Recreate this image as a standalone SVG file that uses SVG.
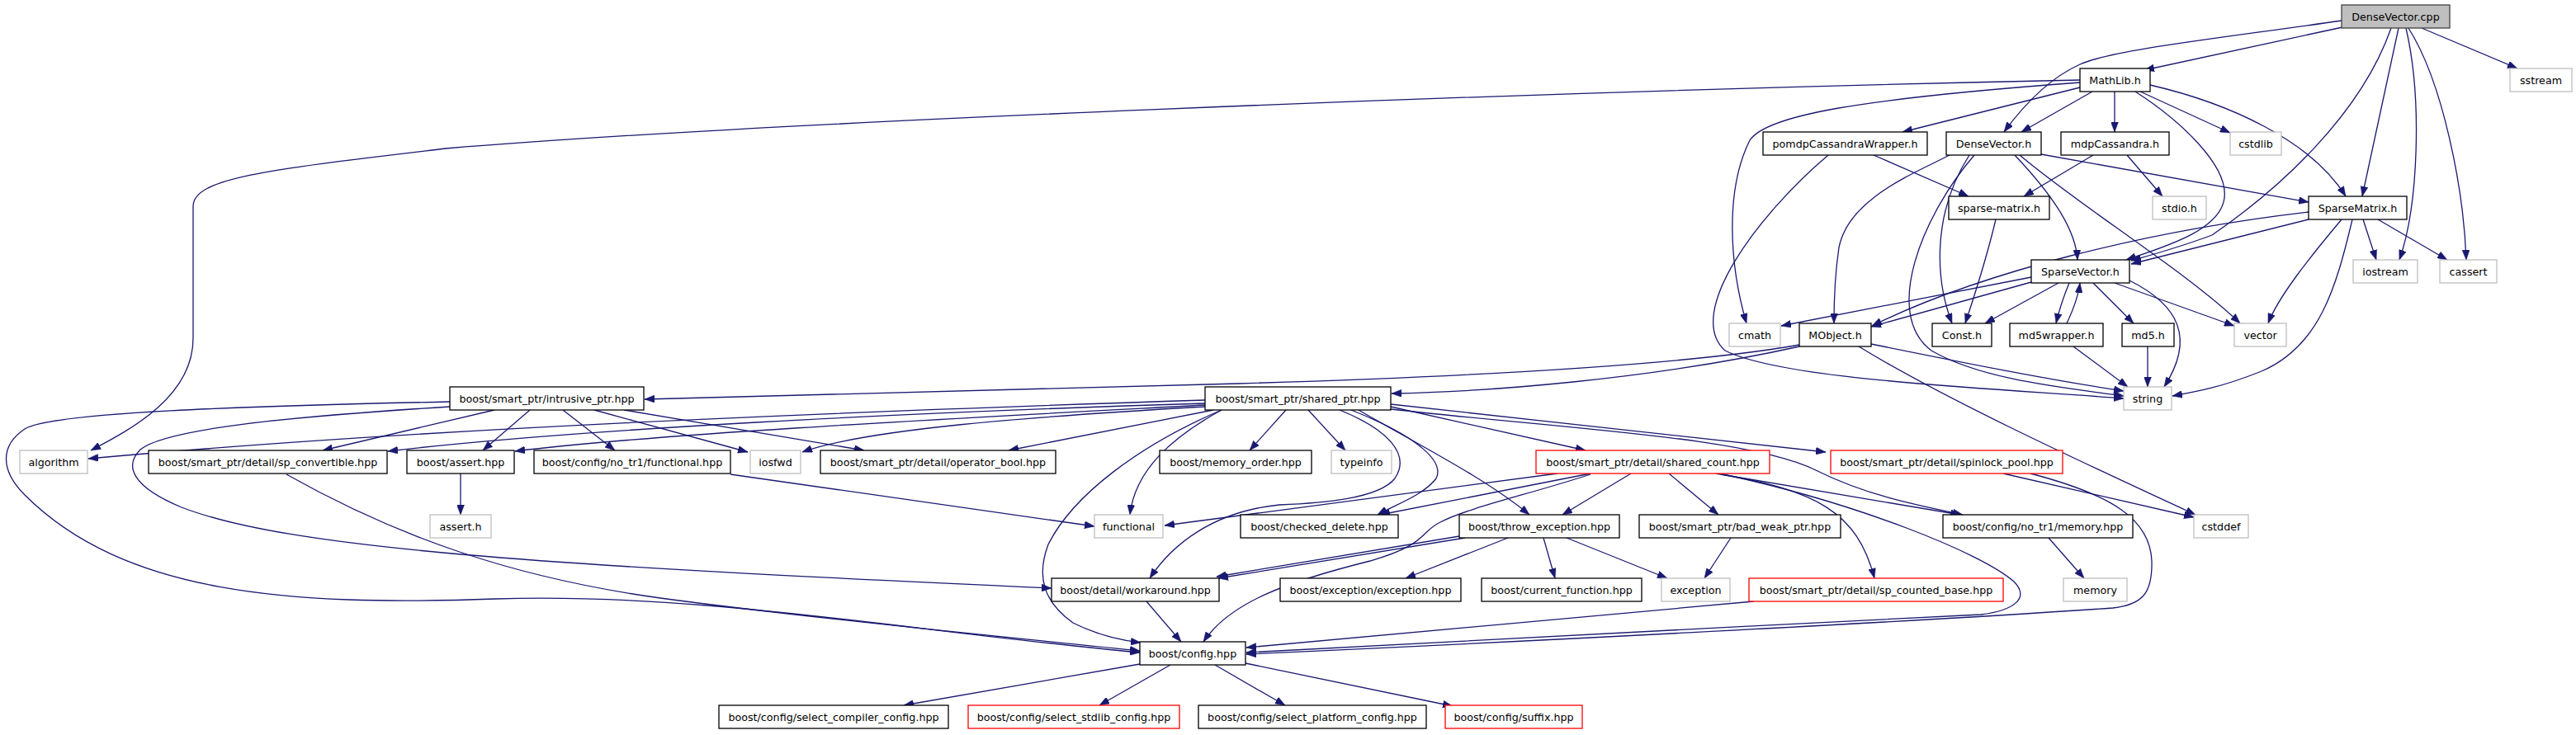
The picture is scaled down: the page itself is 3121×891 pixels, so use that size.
<svg xmlns="http://www.w3.org/2000/svg" width="3121" height="891" viewBox="0 0 3121 891">
<style>
.n rect{fill:#fff;stroke:#000;stroke-width:1.3}
.g rect{fill:#fff;stroke:#bfbfbf;stroke-width:1.3}
.r rect{fill:#fff;stroke:#ff0000;stroke-width:1.3}
.root rect{fill:#bfbfbf;stroke:#404040;stroke-width:1.3}
text{font-family:'DejaVu Sans','Liberation Sans',sans-serif;font-size:12.7px;text-anchor:middle;fill:#000}
#edges path{fill:none;stroke:#191970;stroke-width:1.3;marker-end:url(#ah)}
</style>
<defs>
<marker id="ah" markerUnits="userSpaceOnUse" markerWidth="12" markerHeight="9" viewBox="0 0 12 9" refX="12" refY="4.5" orient="auto">
<path d="M0,0 L12,4.5 L0,9 z" fill="#191970" stroke="#191970" stroke-width="0.5"/>
</marker>
</defs>
<rect width="3121" height="891" fill="#fff"/>
<g id="edges">
<path d="M2838,33 L2598,85"/>
<path d="M2837,25 C2700,45 2560,60 2520,78 C2480,96 2450,130 2428,160"/>
<path d="M2934,34 L3050,83"/>
<path d="M2906,34 L2862,238"/>
<path d="M2897,34 C2860,140 2760,230 2680,285 C2640,300 2610,308 2582,316"/>
<path d="M2915,34 C2935,120 2930,250 2907,315"/>
<path d="M2918,34 C2960,100 2985,230 2988,315"/>
<path d="M2520,97 C1800,112 900,150 540,180 C330,205 234,215 234,250 L234,410 C234,480 160,520 110,546"/>
<path d="M2520,100 C2250,120 2140,140 2120,170 C2090,230 2095,320 2116,392"/>
<path d="M2520,106 L2305,160"/>
<path d="M2535,111 L2449,160"/>
<path d="M2562,111 L2562,160"/>
<path d="M2593,111 L2702,161"/>
<path d="M2587,111 C2640,145 2700,200 2695,240 C2690,280 2620,300 2576,315"/>
<path d="M2605,103 C2700,125 2800,170 2842,238"/>
<path d="M2362,188 C2320,210 2240,240 2228,300 C2222,340 2222,370 2222,392"/>
<path d="M2392,188 C2330,260 2280,380 2340,425 C2400,460 2500,470 2573,480"/>
<path d="M2386,188 C2340,260 2345,340 2365,392"/>
<path d="M2441,188 C2490,240 2515,280 2517,315"/>
<path d="M2447,188 C2520,250 2650,330 2714,392"/>
<path d="M2473,187 L2797,245"/>
<path d="M2536,188 L2452,238"/>
<path d="M2577,188 L2620,238"/>
<path d="M2270,188 L2385,238"/>
<path d="M2215,188 C2130,260 2040,380 2090,425 C2160,460 2400,470 2573,483"/>
<path d="M2418,266 C2410,300 2395,350 2381,392"/>
<path d="M2797,266 L2582,320"/>
<path d="M2797,257 C2600,280 2400,330 2268,395"/>
<path d="M2837,266 C2800,310 2760,360 2748,392"/>
<path d="M2850,266 C2830,350 2810,420 2740,450 C2690,470 2660,475 2632,480"/>
<path d="M2863,266 L2879,315"/>
<path d="M2881,266 L2965,315"/>
<path d="M2461,336 L2158,395"/>
<path d="M2461,342 L2267,396"/>
<path d="M2494,343 L2405,392"/>
<path d="M2507,343 C2500,360 2495,375 2491,392"/>
<path d="M2504,392 C2512,375 2518,360 2520,343"/>
<path d="M2536,343 L2585,392"/>
<path d="M2562,343 L2707,395"/>
<path d="M2580,340 C2640,370 2660,410 2622,469"/>
<path d="M2512,420 L2578,469"/>
<path d="M2602,420 L2602,469"/>
<path d="M2180,418 C2000,450 1600,462 1500,465 C1200,472 900,480 781,484"/>
<path d="M2180,420 C2000,460 1800,475 1686,477"/>
<path d="M2267,417 C2380,440 2480,460 2573,474"/>
<path d="M2252,420 C2350,480 2500,550 2660,624"/>
<path d="M545,487 C300,492 60,500 30,520 C0,540 0,570 30,600 C150,720 350,735 600,726 C850,718 1100,765 1381,791"/>
<path d="M545,493 C350,505 200,520 170,545 C150,565 160,590 220,615 C350,665 650,685 1274,713"/>
<path d="M599,497 L391,546"/>
<path d="M642,497 L585,546"/>
<path d="M682,497 L745,546"/>
<path d="M720,497 L906,548"/>
<path d="M756,497 L1047,546"/>
<path d="M1460,485 C1000,500 500,520 107,556"/>
<path d="M1460,489 C1100,500 700,520 470,547"/>
<path d="M1460,491 C1200,505 800,525 624,547"/>
<path d="M1460,493 C1250,505 1050,520 972,548"/>
<path d="M1470,497 L1222,546"/>
<path d="M1558,497 L1514,546"/>
<path d="M1585,497 L1630,546"/>
<path d="M1480,497 C1420,530 1375,570 1369,624"/>
<path d="M1623,497 C1680,520 1710,550 1690,580 C1670,605 1600,610 1550,612 C1470,620 1420,660 1393,701"/>
<path d="M1637,497 C1720,530 1750,560 1740,580 C1725,600 1690,612 1669,624"/>
<path d="M1646,497 C1720,540 1800,580 1853,624"/>
<path d="M1685,493 L1921,546"/>
<path d="M1685,490 L2212,548"/>
<path d="M1685,496 C1900,520 2120,530 2200,570 C2260,600 2320,612 2378,624"/>
<path d="M1480,497 C1380,540 1300,600 1270,660 C1255,700 1265,730 1300,755 C1330,770 1355,776 1382,779"/>
<path d="M347,575 C480,650 620,700 800,725 C1000,752 1250,775 1381,789"/>
<path d="M1887,574 L1411,637"/>
<path d="M1927,574 L1672,624"/>
<path d="M1927,575 C1850,600 1780,615 1745,633 C1720,645 1730,660 1660,680 C1560,705 1490,730 1458,778"/>
<path d="M1976,574 L1893,624"/>
<path d="M2022,574 L2082,624"/>
<path d="M2079,574 L2375,624"/>
<path d="M2085,575 C2200,595 2250,620 2271,701"/>
<path d="M2088,575 C2250,610 2400,670 2440,705 C2460,725 2440,740 2400,745 C2100,760 1700,780 1510,791"/>
<path d="M1768,650 L1474,699"/>
<path d="M1775,652 L1476,701"/>
<path d="M1827,652 L1703,701"/>
<path d="M1870,652 L1884,701"/>
<path d="M1898,652 L2020,701"/>
<path d="M2097,652 L2065,701"/>
<path d="M2125,729 L1510,785"/>
<path d="M2427,574 L2658,627"/>
<path d="M2460,574 C2560,600 2605,630 2607,680 C2608,720 2595,733 2560,737 C2300,755 1800,780 1510,793"/>
<path d="M2482,652 L2525,701"/>
<path d="M885,575 L1326,638"/>
<path d="M558,574 L558,624"/>
<path d="M1389,729 L1431,778"/>
<path d="M1381,805 L1095,855"/>
<path d="M1418,806 L1332,855"/>
<path d="M1472,806 L1557,855"/>
<path d="M1509,804 L1760,856"/>
</g>
<g id="n_DenseVector_cpp" class="root"><rect x="2837" y="6" width="131" height="28"/><text x="2902.5" y="24.5">DenseVector.cpp</text></g>
<g id="n_MathLib_h" class="n"><rect x="2520" y="83" width="85" height="28"/><text x="2562.5" y="101.5">MathLib.h</text></g>
<g id="n_sstream" class="g"><rect x="3041" y="83" width="75" height="28"/><text x="3078.5" y="101.5">sstream</text></g>
<g id="n_pomdpCassandraWrapper_h" class="n"><rect x="2136" y="160" width="199" height="28"/><text x="2235.5" y="178.5">pomdpCassandraWrapper.h</text></g>
<g id="n_DenseVector_h" class="n"><rect x="2358" y="160" width="115" height="28"/><text x="2415.5" y="178.5">DenseVector.h</text></g>
<g id="n_mdpCassandra_h" class="n"><rect x="2497" y="160" width="131" height="28"/><text x="2562.5" y="178.5">mdpCassandra.h</text></g>
<g id="n_cstdlib" class="g"><rect x="2702" y="160" width="62" height="28"/><text x="2733" y="178.5">cstdlib</text></g>
<g id="n_sparse_matrix_h" class="n"><rect x="2361" y="238" width="122" height="28"/><text x="2422" y="256.5">sparse-matrix.h</text></g>
<g id="n_stdio_h" class="g"><rect x="2608" y="238" width="65" height="28"/><text x="2640.5" y="256.5">stdio.h</text></g>
<g id="n_SparseMatrix_h" class="n"><rect x="2797" y="238" width="119" height="28"/><text x="2856.5" y="256.5">SparseMatrix.h</text></g>
<g id="n_SparseVector_h" class="n"><rect x="2461" y="315" width="119" height="28"/><text x="2520.5" y="333.5">SparseVector.h</text></g>
<g id="n_iostream" class="g"><rect x="2851" y="315" width="78" height="28"/><text x="2890" y="333.5">iostream</text></g>
<g id="n_cassert" class="g"><rect x="2956" y="315" width="69" height="28"/><text x="2990.5" y="333.5">cassert</text></g>
<g id="n_cmath" class="g"><rect x="2095" y="392" width="62" height="28"/><text x="2126" y="410.5">cmath</text></g>
<g id="n_MObject_h" class="n"><rect x="2180" y="392" width="87" height="28"/><text x="2223.5" y="410.5">MObject.h</text></g>
<g id="n_Const_h" class="n"><rect x="2341" y="392" width="72" height="28"/><text x="2377" y="410.5">Const.h</text></g>
<g id="n_md5wrapper_h" class="n"><rect x="2435" y="392" width="113" height="28"/><text x="2491.5" y="410.5">md5wrapper.h</text></g>
<g id="n_md5_h" class="n"><rect x="2571" y="392" width="63" height="28"/><text x="2602.5" y="410.5">md5.h</text></g>
<g id="n_vector" class="g"><rect x="2707" y="392" width="63" height="28"/><text x="2738.5" y="410.5">vector</text></g>
<g id="n_intrusive_ptr" class="n"><rect x="545" y="469" width="235" height="28"/><text x="662.5" y="487.5">boost/smart_ptr/intrusive_ptr.hpp</text></g>
<g id="n_shared_ptr" class="n"><rect x="1460" y="469" width="225" height="28"/><text x="1572.5" y="487.5">boost/smart_ptr/shared_ptr.hpp</text></g>
<g id="n_string" class="g"><rect x="2573" y="469" width="58" height="28"/><text x="2602" y="487.5">string</text></g>
<g id="n_algorithm" class="g"><rect x="24" y="546" width="82" height="28"/><text x="65" y="564.5">algorithm</text></g>
<g id="n_sp_convertible" class="n"><rect x="180" y="546" width="289" height="28"/><text x="324.5" y="564.5">boost/smart_ptr/detail/sp_convertible.hpp</text></g>
<g id="n_assert_hpp" class="n"><rect x="493" y="546" width="130" height="28"/><text x="558" y="564.5">boost/assert.hpp</text></g>
<g id="n_no_tr1_functional" class="n"><rect x="647" y="546" width="238" height="28"/><text x="766" y="564.5">boost/config/no_tr1/functional.hpp</text></g>
<g id="n_iosfwd" class="g"><rect x="909" y="546" width="61" height="28"/><text x="939.5" y="564.5">iosfwd</text></g>
<g id="n_operator_bool" class="n"><rect x="994" y="546" width="285" height="28"/><text x="1136.5" y="564.5">boost/smart_ptr/detail/operator_bool.hpp</text></g>
<g id="n_memory_order" class="n"><rect x="1405" y="546" width="184" height="28"/><text x="1497" y="564.5">boost/memory_order.hpp</text></g>
<g id="n_typeinfo" class="g"><rect x="1613" y="546" width="73" height="28"/><text x="1649.5" y="564.5">typeinfo</text></g>
<g id="n_shared_count" class="r"><rect x="1861" y="546" width="283" height="28"/><text x="2002.5" y="564.5">boost/smart_ptr/detail/shared_count.hpp</text></g>
<g id="n_spinlock_pool" class="r"><rect x="2218" y="546" width="281" height="28"/><text x="2358.5" y="564.5">boost/smart_ptr/detail/spinlock_pool.hpp</text></g>
<g id="n_assert_h" class="g"><rect x="521" y="624" width="74" height="28"/><text x="558" y="642.5">assert.h</text></g>
<g id="n_functional" class="g"><rect x="1326" y="624" width="83" height="28"/><text x="1367.5" y="642.5">functional</text></g>
<g id="n_checked_delete" class="n"><rect x="1503" y="624" width="191" height="28"/><text x="1598.5" y="642.5">boost/checked_delete.hpp</text></g>
<g id="n_throw_exception" class="n"><rect x="1768" y="624" width="194" height="28"/><text x="1865" y="642.5">boost/throw_exception.hpp</text></g>
<g id="n_bad_weak_ptr" class="n"><rect x="1986" y="624" width="244" height="28"/><text x="2108" y="642.5">boost/smart_ptr/bad_weak_ptr.hpp</text></g>
<g id="n_no_tr1_memory" class="n"><rect x="2354" y="624" width="230" height="28"/><text x="2469" y="642.5">boost/config/no_tr1/memory.hpp</text></g>
<g id="n_cstddef" class="g"><rect x="2658" y="624" width="66" height="28"/><text x="2691" y="642.5">cstddef</text></g>
<g id="n_workaround" class="n"><rect x="1274" y="701" width="203" height="28"/><text x="1375.5" y="719.5">boost/detail/workaround.hpp</text></g>
<g id="n_exception_hpp" class="n"><rect x="1551" y="701" width="219" height="28"/><text x="1660.5" y="719.5">boost/exception/exception.hpp</text></g>
<g id="n_current_function" class="n"><rect x="1795" y="701" width="194" height="28"/><text x="1892" y="719.5">boost/current_function.hpp</text></g>
<g id="n_exception" class="g"><rect x="2013" y="701" width="83" height="28"/><text x="2054.5" y="719.5">exception</text></g>
<g id="n_sp_counted_base" class="r"><rect x="2119" y="701" width="308" height="28"/><text x="2273" y="719.5">boost/smart_ptr/detail/sp_counted_base.hpp</text></g>
<g id="n_memory" class="g"><rect x="2500" y="701" width="77" height="28"/><text x="2538.5" y="719.5">memory</text></g>
<g id="n_config_hpp" class="n"><rect x="1381" y="778" width="128" height="28"/><text x="1445" y="796.5">boost/config.hpp</text></g>
<g id="n_select_compiler" class="n"><rect x="871" y="855" width="278" height="28"/><text x="1010" y="873.5">boost/config/select_compiler_config.hpp</text></g>
<g id="n_select_stdlib" class="r"><rect x="1173" y="855" width="256" height="28"/><text x="1301" y="873.5">boost/config/select_stdlib_config.hpp</text></g>
<g id="n_select_platform" class="n"><rect x="1452" y="855" width="276" height="28"/><text x="1590" y="873.5">boost/config/select_platform_config.hpp</text></g>
<g id="n_suffix" class="r"><rect x="1751" y="855" width="166" height="28"/><text x="1834" y="873.5">boost/config/suffix.hpp</text></g>
</svg>
